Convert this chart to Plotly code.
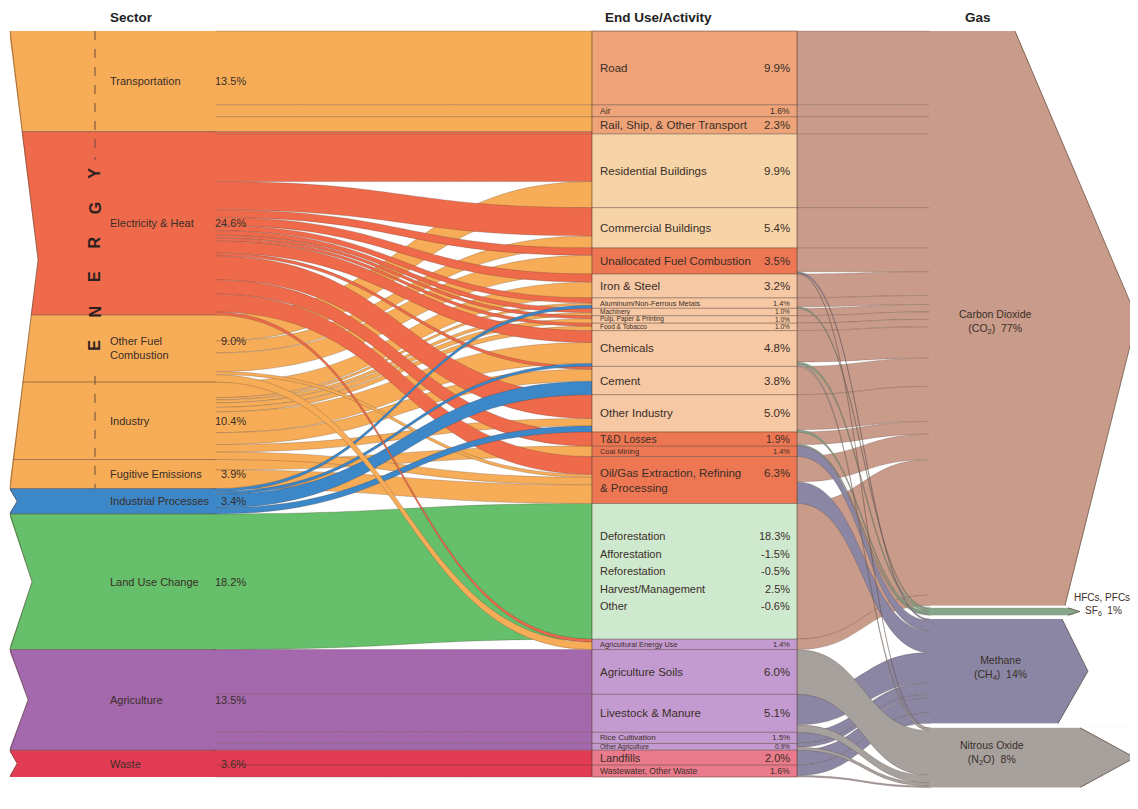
import plotly.graph_objects as go

# ------------------------------------------------------------------ data
sectors = ["Transportation", "Electricity & Heat", "Other Fuel Combustion", "Industry",
           "Fugitive Emissions", "Industrial Processes", "Land Use Change", "Agriculture", "Waste"]
sector_labels = ["Transportation", "Electricity & Heat", "Other Fuel<br>Combustion", "Industry",
                 "Fugitive Emissions", "Industrial Processes", "Land Use Change", "Agriculture", "Waste"]
sector_pct = [13.5, 24.6, 9.0, 10.4, 3.9, 3.4, 18.2, 13.5, 3.6]

end_uses = ["Road", "Air", "Rail, Ship, & Other Transport", "Residential Buildings",
            "Commercial Buildings", "Unallocated Fuel Combustion", "Iron & Steel",
            "Aluminum/Non-Ferrous Metals", "Machinery", "Pulp, Paper & Printing", "Food & Tobacco",
            "Chemicals", "Cement", "Other Industry", "T&D Losses", "Coal Mining",
            "Oil/Gas Extraction, Refining & Processing", "Land Use Change (net)",
            "Agricultural Energy Use", "Agriculture Soils", "Livestock & Manure", "Rice Cultivation",
            "Other Agriculture", "Landfills", "Wastewater, Other Waste"]
end_use_labels = ["Road", "Air", "Rail, Ship, & Other Transport", "Residential Buildings",
                  "Commercial Buildings", "Unallocated Fuel Combustion", "Iron & Steel",
                  "Aluminum/Non-Ferrous Metals", "Machinery", "Pulp, Paper & Printing", "Food & Tobacco",
                  "Chemicals", "Cement", "Other Industry", "T&D Losses", "Coal Mining",
                  "Oil/Gas Extraction, Refining<br>& Processing", None,
                  "Agricultural Energy Use", "Agriculture Soils", "Livestock & Manure", "Rice Cultivation",
                  "Other Agriculture", "Landfills", "Wastewater, Other Waste"]
end_use_pct = [9.9, 1.6, 2.3, 9.9, 5.4, 3.5, 3.2, 1.4, 1.0, 1.0, 1.0, 4.8, 3.8, 5.0, 1.9, 1.4, 6.3,
               None, 1.4, 6.0, 5.1, 1.5, 0.9, 2.0, 1.6]

luc_items = ["Deforestation", "Afforestation", "Reforestation", "Harvest/Management", "Other"]
luc_pct = [18.3, -1.5, -0.5, 2.5, -0.6]

gases = ["Carbon Dioxide", "HFCs, PFCs, SF6", "Methane", "Nitrous Oxide"]
gas_labels = ["Carbon Dioxide<br>(CO<sub>2</sub>)", "HFCs, PFCs,<br>SF<sub>6</sub>",
              "Methane<br>(CH<sub>4</sub>)", "Nitrous Oxide<br>(N<sub>2</sub>O)"]
gas_pct = [77, 1, 14, 8]

# sector -> end use flows (% of world GHG)
flows_sector_end = [
    ("Transportation", "Road", 9.9),
    ("Transportation", "Air", 1.6),
    ("Transportation", "Rail, Ship, & Other Transport", 2.0),
    ("Electricity & Heat", "Rail, Ship, & Other Transport", 0.3),
    ("Electricity & Heat", "Residential Buildings", 6.4),
    ("Other Fuel Combustion", "Residential Buildings", 3.5),
    ("Electricity & Heat", "Commercial Buildings", 3.8),
    ("Other Fuel Combustion", "Commercial Buildings", 1.6),
    ("Electricity & Heat", "Unallocated Fuel Combustion", 1.0),
    ("Other Fuel Combustion", "Unallocated Fuel Combustion", 2.5),
    ("Electricity & Heat", "Iron & Steel", 1.1),
    ("Industry", "Iron & Steel", 2.1),
    ("Electricity & Heat", "Aluminum/Non-Ferrous Metals", 0.7),
    ("Industry", "Aluminum/Non-Ferrous Metals", 0.3),
    ("Industrial Processes", "Aluminum/Non-Ferrous Metals", 0.4),
    ("Electricity & Heat", "Machinery", 0.6),
    ("Industry", "Machinery", 0.4),
    ("Electricity & Heat", "Pulp, Paper & Printing", 0.4),
    ("Industry", "Pulp, Paper & Printing", 0.6),
    ("Electricity & Heat", "Food & Tobacco", 0.4),
    ("Industry", "Food & Tobacco", 0.6),
    ("Electricity & Heat", "Chemicals", 1.6),
    ("Industry", "Chemicals", 2.8),
    ("Industrial Processes", "Chemicals", 0.4),
    ("Electricity & Heat", "Cement", 0.4),
    ("Industry", "Cement", 1.6),
    ("Industrial Processes", "Cement", 1.8),
    ("Electricity & Heat", "Other Industry", 3.2),
    ("Industry", "Other Industry", 1.0),
    ("Industrial Processes", "Other Industry", 0.8),
    ("Electricity & Heat", "T&D Losses", 1.9),
    ("Fugitive Emissions", "Coal Mining", 1.4),
    ("Electricity & Heat", "Oil/Gas Extraction, Refining & Processing", 2.4),
    ("Other Fuel Combustion", "Oil/Gas Extraction, Refining & Processing", 0.4),
    ("Industry", "Oil/Gas Extraction, Refining & Processing", 1.0),
    ("Fugitive Emissions", "Oil/Gas Extraction, Refining & Processing", 2.5),
    ("Land Use Change", "Land Use Change (net)", 18.2),
    ("Electricity & Heat", "Agricultural Energy Use", 0.4),
    ("Other Fuel Combustion", "Agricultural Energy Use", 1.0),
    ("Agriculture", "Agriculture Soils", 6.0),
    ("Agriculture", "Livestock & Manure", 5.1),
    ("Agriculture", "Rice Cultivation", 1.5),
    ("Agriculture", "Other Agriculture", 0.9),
    ("Waste", "Landfills", 2.0),
    ("Waste", "Wastewater, Other Waste", 1.6),
]

# end use -> gas flows
flows_end_gas = [
    ("Road", "Carbon Dioxide", 9.9),
    ("Air", "Carbon Dioxide", 1.6),
    ("Rail, Ship, & Other Transport", "Carbon Dioxide", 2.3),
    ("Residential Buildings", "Carbon Dioxide", 9.9),
    ("Commercial Buildings", "Carbon Dioxide", 5.4),
    ("Unallocated Fuel Combustion", "Carbon Dioxide", 3.2),
    ("Iron & Steel", "Carbon Dioxide", 3.2),
    ("Aluminum/Non-Ferrous Metals", "Carbon Dioxide", 1.2),
    ("Machinery", "Carbon Dioxide", 1.0),
    ("Pulp, Paper & Printing", "Carbon Dioxide", 1.0),
    ("Food & Tobacco", "Carbon Dioxide", 1.0),
    ("Chemicals", "Carbon Dioxide", 4.2),
    ("Cement", "Carbon Dioxide", 3.8),
    ("Other Industry", "Carbon Dioxide", 4.7),
    ("T&D Losses", "Carbon Dioxide", 1.7),
    ("Oil/Gas Extraction, Refining & Processing", "Carbon Dioxide", 3.4),
    ("Land Use Change (net)", "Carbon Dioxide", 18.2),
    ("Agricultural Energy Use", "Carbon Dioxide", 1.4),
    ("Aluminum/Non-Ferrous Metals", "HFCs, PFCs, SF6", 0.2),
    ("Chemicals", "HFCs, PFCs, SF6", 0.3),
    ("Other Industry", "HFCs, PFCs, SF6", 0.3),
    ("T&D Losses", "HFCs, PFCs, SF6", 0.2),
    ("Unallocated Fuel Combustion", "Methane", 0.2),
    ("Coal Mining", "Methane", 1.4),
    ("Oil/Gas Extraction, Refining & Processing", "Methane", 2.9),
    ("Livestock & Manure", "Methane", 4.1),
    ("Rice Cultivation", "Methane", 1.5),
    ("Other Agriculture", "Methane", 0.5),
    ("Landfills", "Methane", 2.0),
    ("Wastewater, Other Waste", "Methane", 1.4),
    ("Unallocated Fuel Combustion", "Nitrous Oxide", 0.1),
    ("Chemicals", "Nitrous Oxide", 0.3),
    ("Agriculture Soils", "Nitrous Oxide", 6.0),
    ("Livestock & Manure", "Nitrous Oxide", 1.0),
    ("Other Agriculture", "Nitrous Oxide", 0.4),
    ("Wastewater, Other Waste", "Nitrous Oxide", 0.2),
]

# ------------------------------------------------------------------ style
W, HF = 1138, 809
OFF = 8                       # page body margin of the html page
S_TOP = 31                    # screen y of the top of the node columns
H = 746                       # height of the node columns (px)
MT = S_TOP - OFF
MB = HF - MT - H
T = 205                       # node thickness (px)
X_SECTOR, X_END, X_GAS = 10, 592, 930   # screen left edges of node columns (px)
FONT = "Liberation Sans, Arial, Helvetica, sans-serif"
TXT = "#3a2e28"
OUTLINE = "rgba(85,60,48,0.9)"
LINK_OUTLINE = "rgba(80,55,45,0.55)"

ORANGE, RED, BLUE = "#f7ad57", "#ee6a4a", "#3c87c7"
sector_colors = {"Transportation": ORANGE, "Electricity & Heat": RED, "Other Fuel Combustion": ORANGE,
                 "Industry": ORANGE, "Fugitive Emissions": ORANGE, "Industrial Processes": BLUE,
                 "Land Use Change": "#65bf6b", "Agriculture": "#a468ad", "Waste": "#e23c54"}
eu_col = {"transport": "#eea378", "build": "#f6d4a8", "red": "#ee7753", "ind": "#f6c8a3",
          "luc": "#cfe9cf", "ag": "#c49bd0", "waste": "#ea7b8c"}
end_use_color_keys = ["transport"] * 3 + ["build"] * 2 + ["red"] + ["ind"] * 8 + ["red"] * 3 + \
                     ["luc"] + ["ag"] * 5 + ["waste"] * 2
gas_colors = {"Carbon Dioxide": "#c99b8a", "HFCs, PFCs, SF6": "#86a689",
              "Methane": "#8a86a3", "Nitrous Oxide": "#a7a19e"}
gas_gap = {"Carbon Dioxide": 0.0, "HFCs, PFCs, SF6": 0.3, "Methane": 0.5, "Nitrous Oxide": 0.6}
draw_rank = {"Transportation": 0, "Land Use Change": 0, "Agriculture": 0, "Waste": 0,
             "Other Fuel Combustion": 1, "Industry": 1, "Fugitive Emissions": 1,
             "Electricity & Heat": 2, "Industrial Processes": 3}

# ------------------------------------------------------------------ build sankey
nodes = sectors + end_uses + gases
idx = {n: i for i, n in enumerate(nodes)}

def node_totals(names, flows, side):
    tot = {n: 0.0 for n in names}
    for s, t, v in flows:
        key = s if side == "out" else t
        if key in tot:
            tot[key] += v
    return tot

sec_val = node_totals(sectors, flows_sector_end, "out")
end_val = node_totals(end_uses, flows_end_gas, "out")
gas_val = node_totals(gases, flows_end_gas, "in")
total = max(sum(sec_val.values()), sum(end_val.values()), sum(gas_val.values()))
ky = H / total

geom = {}  # name -> (top, bottom) in screen px

def stack(names, vals, gaps=None):
    cum = 0.0
    for n in names:
        if gaps:
            cum += gaps[n]
        top = S_TOP + cum * ky
        geom[n] = (top, top + vals[n] * ky)
        cum += vals[n]

stack(sectors, sec_val)
stack(end_uses, end_val)
stack(gases, gas_val, gas_gap)

node_x, node_y = [], []
for n in nodes:
    xl = X_SECTOR if n in sec_val else (X_END if n in end_val else X_GAS)
    node_x.append((xl + T / 2 - OFF) / W)
    t, b = geom[n]
    node_y.append(((t + b) / 2 - S_TOP) / H)

node_colors = [sector_colors[s] for s in sectors] + [eu_col[k] for k in end_use_color_keys] + \
              [gas_colors[g] for g in gases]

links = []
for s, t, v in flows_sector_end:
    rank = 4 if t == "Agricultural Energy Use" else draw_rank[s]
    links.append((rank, s, t, v, sector_colors[s]))
for s, t, v in flows_end_gas:
    rank = 5 if t == "Carbon Dioxide" else 6
    links.append((rank, s, t, v, gas_colors[t]))
links.sort(key=lambda r: r[0])

fig = go.Figure(go.Sankey(
    arrangement="fixed",
    domain=dict(x=[0, 1], y=[0, 1]),
    node=dict(
        label=[""] * len(nodes),
        customdata=nodes,
        hovertemplate="%{customdata}<extra></extra>",
        x=node_x, y=node_y,
        pad=0, thickness=T,
        color=node_colors,
        line=dict(color="rgba(0,0,0,0)", width=0),
    ),
    link=dict(
        source=[idx[r[1]] for r in links],
        target=[idx[r[2]] for r in links],
        value=[r[3] for r in links],
        color=[r[4] for r in links],
        line=dict(color=LINK_OUTLINE, width=0.45),
    ),
))

# ------------------------------------------------------------------ decorations
def px(x):
    return (x - OFF) / W

def py(y):
    return 1 - (y - S_TOP) / H

ann = []
shapes = []

def text(x, y, s, size=11, anchor="left", color=TXT, bold=False, angle=0, align="left", yanchor="middle"):
    ann.append(dict(x=px(x), y=py(y), xref="paper", yref="paper", text=f"<b>{s}</b>" if bold else s,
                    showarrow=False, xanchor=anchor, yanchor=yanchor, textangle=angle, align=align,
                    font=dict(family=FONT, size=size, color=color)))

def rect(x0, x1, y0, y1, fill):
    shapes.append(dict(type="rect", xref="paper", yref="paper", x0=px(x0), x1=px(x1), y0=py(y0), y1=py(y1),
                       fillcolor=fill, line=dict(width=0), layer="above"))

def hline(x0, x1, y, color=OUTLINE, width=0.6):
    shapes.append(dict(type="line", xref="paper", yref="paper", x0=px(x0), x1=px(x1), y0=py(y), y1=py(y),
                       line=dict(color=color, width=width), layer="above"))

# hide the link end strokes where links join sector and gas nodes
for n in sectors:
    t, b = geom[n]
    rect(X_SECTOR + T - 1.5, X_SECTOR + T + 1.0, t, b, sector_colors[n])
for g in gases:
    t, b = geom[g]
    rect(X_GAS - 1.0, X_GAS + 1.5, t, b, gas_colors[g])

# headers (top edge of the page area)
text(108, OFF, "Sector", 13.5, bold=True, color="#222", yanchor="top")
text(603, OFF, "End Use/Activity", 13.5, bold=True, color="#222", yanchor="top")
text(978, OFF, "Gas", 13.5, anchor="center", bold=True, color="#222", yanchor="top")

# sector boundary lines
for n in sectors[1:]:
    hline(X_SECTOR, X_SECTOR + T + 1, geom[n][0])

# end-use box outlines
for n in end_uses:
    t, b = geom[n]
    hline(X_END, X_END + T, t)
hline(X_END, X_END + T, geom[end_uses[-1]][1])
for xe in (X_END, X_END + T):
    shapes.append(dict(type="line", xref="paper", yref="paper", x0=px(xe), x1=px(xe),
                       y0=py(geom[end_uses[0]][0]), y1=py(geom[end_uses[-1]][1]),
                       line=dict(color=OUTLINE, width=0.6), layer="above"))

# sector labels
for n, lab, pct in zip(sectors, sector_labels, sector_pct):
    t, b = geom[n]
    c = (t + b) / 2
    text(108, c, lab, 11)
    text(248, c - (7 if "<br>" in lab else 0), f"{pct:.1f}%", 11, anchor="right")

# ENERGY vertical letters + dashed rule
e_top = geom["Transportation"][0]
e_bot = geom["Fugitive Emissions"][1]
e_c = (e_top + e_bot) / 2
step = 34.4
for i, ch in enumerate("ENERGY"):
    text(95, e_c + (2.5 - i) * step, ch, 16, anchor="center", bold=True, color="#2a2020", angle=-90)
for y0, y1 in [(e_top, e_c - 2.5 * step - 14), (e_c + 2.5 * step + 30, e_bot)]:
    shapes.append(dict(type="line", xref="paper", yref="paper", x0=px(95), x1=px(95), y0=py(y0), y1=py(y1),
                       line=dict(color="#6a4a3a", width=1, dash="dash"), layer="above"))

# end use labels
for n, lab, pct in zip(end_uses, end_use_labels, end_use_pct):
    t, b = geom[n]
    c = (t + b) / 2
    if lab is None:
        for k, (item, v) in enumerate(zip(luc_items, luc_pct)):
            yy = c + (k - 2) * 17.5
            text(598, yy, item, 11)
            text(792, yy, f"{v:.1f}%", 11, anchor="right")
        continue
    size = min(11.5, max(6.5, 6 * pct - 1))
    if "<br>" in lab:
        text(598, c, lab, size)
        text(792, c - 7, f"{pct:.1f}%", size, anchor="right")
    else:
        text(598, c, lab, size)
        text(792, c, f"{pct:.1f}%", size, anchor="right")

# gas labels
gas_label_pos = {"Carbon Dioxide": (995, 4, "center"), "HFCs, PFCs, SF6": (1135, -7, "right"),
                 "Methane": (1000, -3, "center"), "Nitrous Oxide": (992, -5, "center")}
for g, lab, pct in zip(gases, gas_labels, gas_pct):
    t, b = geom[g]
    gx, gdy, ganc = gas_label_pos[g]
    text(gx, (t + b) / 2 + gdy, f"{lab}  {pct}%", 10.5 if ganc == "center" else 10, anchor=ganc,
         align="center")

# left chevron notches (white) on sector bands
groups = [(["Transportation", "Fugitive Emissions"], 28), (["Industrial Processes"] * 2, 7),
          (["Land Use Change"] * 2, 22), (["Agriculture"] * 2, 18), (["Waste"] * 2, 7)]
for (first, last), depth in groups:
    t = geom[first][0]
    b = geom[last][1]
    m = (t + b) / 2
    xl = X_SECTOR - 1
    path = f"M {px(xl)},{py(t)} L {px(X_SECTOR + depth)},{py(m)} L {px(xl)},{py(b)} Z"
    shapes.append(dict(type="path", xref="paper", yref="paper", path=path, fillcolor="white",
                       line=dict(width=0), layer="above"))
    edge = f"M {px(X_SECTOR)},{py(t)} L {px(X_SECTOR + depth)},{py(m)} L {px(X_SECTOR)},{py(b)}"
    shapes.append(dict(type="path", xref="paper", yref="paper", path=edge,
                       line=dict(color=OUTLINE, width=0.6), layer="above"))

# gas arrow heads: white cut-outs on right of gas nodes
arrow_style = {"Carbon Dioxide": (1015, 1065, 1137), "HFCs, PFCs, SF6": (1068, 1068, 1080),
               "Methane": (1062, 1058, 1088), "Nitrous Oxide": (1080, 1080, 1135)}
xr = X_GAS + T + 3
for g in gases:
    t, b = geom[g]
    m = (t + b) / 2
    xa, xb, xt = arrow_style[g]
    path = (f"M {px(xa)},{py(t - 0.6)} L {px(xr)},{py(t - 0.6)} L {px(xr)},{py(b + 0.6)} "
            f"L {px(xb)},{py(b + 0.6)} L {px(xt)},{py(m)} Z")
    shapes.append(dict(type="path", xref="paper", yref="paper", path=path, fillcolor="white",
                       line=dict(width=0), layer="above"))
    edge = f"M {px(xa)},{py(t)} L {px(xt)},{py(m)} L {px(xb)},{py(b)}"
    shapes.append(dict(type="path", xref="paper", yref="paper", path=edge,
                       line=dict(color=OUTLINE, width=0.7), layer="above"))

fig.update_layout(
    width=W, height=HF,
    margin=dict(l=0, r=0, t=MT, b=MB),
    paper_bgcolor="white",
    font=dict(family=FONT, color=TXT),
    annotations=ann,
    shapes=shapes,
    showlegend=False,
)

fig.write_html("out.html")
